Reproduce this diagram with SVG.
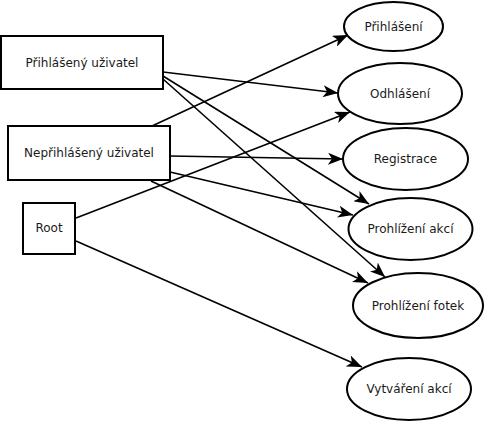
<svg xmlns="http://www.w3.org/2000/svg" width="485" height="422" viewBox="0 0 485 422">
<style>
.box{fill:#fff;stroke:#000;stroke-width:2}
.uc{fill:#fff;stroke:#000;stroke-width:2}
.lbl{font-family:"DejaVu Sans",sans-serif;font-size:12px;fill:#1a1a1a;text-anchor:middle;dominant-baseline:central}
.edge{fill:none;stroke:#000;stroke-width:1.6}
</style>
<defs>
<marker id="arr" markerUnits="userSpaceOnUse" markerWidth="16" markerHeight="12" viewBox="0 0 16 12" refX="15" refY="6" orient="auto">
<path d="M0,0 L15,6 L0,12 L4,6 z" fill="#000"/>
</marker>
</defs>
<rect width="485" height="422" fill="#fff"/>
<g id="connectors">
<line class="edge" x1="152" y1="126" x2="348" y2="35" marker-end="url(#arr)"/>
<line class="edge" x1="163" y1="72" x2="338" y2="93" marker-end="url(#arr)"/>
<line class="edge" x1="76" y1="218" x2="350" y2="112" marker-end="url(#arr)"/>
<line class="edge" x1="170" y1="156" x2="343" y2="159" marker-end="url(#arr)"/>
<line class="edge" x1="163" y1="76" x2="369" y2="204" marker-end="url(#arr)"/>
<line class="edge" x1="163" y1="79" x2="385" y2="277" marker-end="url(#arr)"/>
<line class="edge" x1="170" y1="172" x2="353" y2="215" marker-end="url(#arr)"/>
<line class="edge" x1="151" y1="181" x2="368" y2="283" marker-end="url(#arr)"/>
<line class="edge" x1="76" y1="241" x2="362" y2="367" marker-end="url(#arr)"/>
</g>
<g id="n-prihlaseny">
<rect class="box" x="1" y="36" width="162" height="53"/>
<text class="lbl" x="82" y="62.5">Přihlášený uživatel</text>
</g>
<g id="n-neprihlaseny">
<rect class="box" x="8" y="126" width="162" height="54"/>
<text class="lbl" x="89" y="153">Nepřihlášený uživatel</text>
</g>
<g id="n-root">
<rect class="box" x="23" y="203" width="52" height="51"/>
<text class="lbl" x="49" y="228">Root</text>
</g>
<g id="u-prihlaseni">
<ellipse class="uc" cx="393.5" cy="26.5" rx="49.5" ry="24.5"/>
<text class="lbl" x="393.5" y="26.5">Přihlášení</text>
</g>
<g id="u-odhlaseni">
<ellipse class="uc" cx="400" cy="93.5" rx="62" ry="30.5"/>
<text class="lbl" x="400" y="93.5">Odhlášení</text>
</g>
<g id="u-registrace">
<ellipse class="uc" cx="405.5" cy="159" rx="62.5" ry="31"/>
<text class="lbl" x="405.5" y="159">Registrace</text>
</g>
<g id="u-prohlizeni-akci">
<ellipse class="uc" cx="410.5" cy="229" rx="62" ry="31"/>
<text class="lbl" x="410.5" y="229">Prohlížení akcí</text>
</g>
<g id="u-prohlizeni-fotek">
<ellipse class="uc" cx="418" cy="305.5" rx="65" ry="32.5"/>
<text class="lbl" x="418" y="305.5">Prohlížení fotek</text>
</g>
<g id="u-vytvareni-akci">
<ellipse class="uc" cx="409" cy="389" rx="62" ry="31"/>
<text class="lbl" x="409" y="389">Vytváření akcí</text>
</g>
</svg>
